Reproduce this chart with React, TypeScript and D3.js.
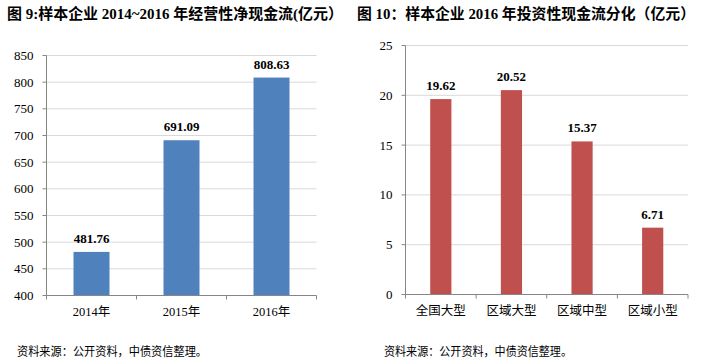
import React from "react";
import * as d3 from "d3";

const leftCategories = ["2014年", "2015年", "2016年"];
const leftValues = [481.76, 691.09, 808.63];
const leftTicks = [400, 450, 500, 550, 600, 650, 700, 750, 800, 850];
const leftTitle = "图 9:样本企业 2014~2016 年经营性净现金流(亿元）";

const rightCategories = ["全国大型", "区域大型", "区域中型", "区域小型"];
const rightValues = [19.62, 20.52, 15.37, 6.71];
const rightTicks = [0, 5, 10, 15, 20, 25];
const rightTitle = "图 10：样本企业 2016 年投资性现金流分化（亿元）";

const sourceText = "资料来源：公开资料，中债资信整理。";

const SERIF = "Liberation Serif, DejaVu Serif, Noto Sans CJK SC, serif";
const CJK = "Noto Sans CJK SC, sans-serif";

type PanelProps = {
  cats: string[];
  vals: number[];
  ticks: number[];
  domain: [number, number];
  x0: number;
  x1: number;
  yTop: number;
  yBot: number;
  color: string;
  barFrac: number;
  catFont: string;
};

function Panel({ cats, vals, ticks, domain, x0, x1, yTop, yBot, color, barFrac, catFont }: PanelProps) {
  const x = d3.scaleBand<string>().domain(cats).range([x0, x1]).padding(0);
  const y = d3.scaleLinear().domain(domain).range([yBot, yTop]);
  const bw = x.bandwidth() * barFrac;
  const bounds = cats.map((c) => x(c) as number).concat([x1]);
  return (
    <g>
      {ticks.map((t) => (
        <g key={t}>
          {t !== domain[0] && (
            <line x1={x0} x2={x1} y1={y(t)} y2={y(t)} stroke="#d9d9d9" strokeWidth={1} />
          )}
          <line x1={x0 - 4} x2={x0} y1={y(t)} y2={y(t)} stroke="#868686" strokeWidth={1} />
          <text x={x0 - 13} y={y(t)} dy="0.35em" textAnchor="end" style={{ fontFamily: SERIF, fontSize: 13 }} fill="#000">
            {t}
          </text>
        </g>
      ))}
      {cats.map((c, i) => {
        const cx = (x(c) as number) + x.bandwidth() / 2;
        return (
          <g key={c}>
            <rect x={cx - bw / 2} y={y(vals[i])} width={bw} height={yBot - y(vals[i])} fill={color} />
            <text x={cx} y={y(vals[i]) - 9} textAnchor="middle" style={{ fontFamily: SERIF, fontWeight: "bold", fontSize: 13 }} fill="#000">
              {vals[i].toFixed(2)}
            </text>
            <text x={cx} y={yBot + 20} textAnchor="middle" style={{ fontFamily: catFont, fontSize: 12.5 }} fill="#000">
              {c}
            </text>
          </g>
        );
      })}
      <line x1={x0} x2={x0} y1={yTop} y2={yBot} stroke="#868686" strokeWidth={1} />
      <line x1={x0} x2={x1} y1={yBot} y2={yBot} stroke="#868686" strokeWidth={1} />
      {bounds.map((b, i) => (
        <line key={i} x1={b} x2={b} y1={yBot} y2={yBot + 4} stroke="#868686" strokeWidth={1} />
      ))}
    </g>
  );
}

export default function App() {
  return (
    <svg
      width={701}
      height={361}
      style={{ position: "absolute", left: 0, top: 0, background: "#fff" }}
    >
      <rect width={701} height={361} fill="#fff" />
      <text x={7} y={19} style={{ fontFamily: SERIF, fontWeight: "bold", fontSize: 15 }} textLength={336} lengthAdjust="spacingAndGlyphs" fill="#000">
        {leftTitle}
      </text>
      <text x={357} y={19} style={{ fontFamily: SERIF, fontWeight: "bold", fontSize: 15 }} textLength={338} lengthAdjust="spacingAndGlyphs" fill="#000">
        {rightTitle}
      </text>
      <Panel
        cats={leftCategories}
        vals={leftValues}
        ticks={leftTicks}
        domain={[400, 850]}
        x0={46.5}
        x1={316.5}
        yTop={55.5}
        yBot={295.5}
        color="#4f81bd"
        barFrac={0.4}
        catFont={SERIF}
      />
      <Panel
        cats={rightCategories}
        vals={rightValues}
        ticks={rightTicks}
        domain={[0, 25]}
        x0={405.5}
        x1={688}
        yTop={45.5}
        yBot={294.5}
        color="#c0504d"
        barFrac={0.3}
        catFont={CJK}
      />
      <text x={17} y={356} style={{ fontFamily: CJK, fontSize: 12 }} textLength={190} lengthAdjust="spacingAndGlyphs" fill="#000">
        {sourceText}
      </text>
      <text x={384} y={356} style={{ fontFamily: CJK, fontSize: 12 }} textLength={188} lengthAdjust="spacingAndGlyphs" fill="#000">
        {sourceText}
      </text>
    </svg>
  );
}
